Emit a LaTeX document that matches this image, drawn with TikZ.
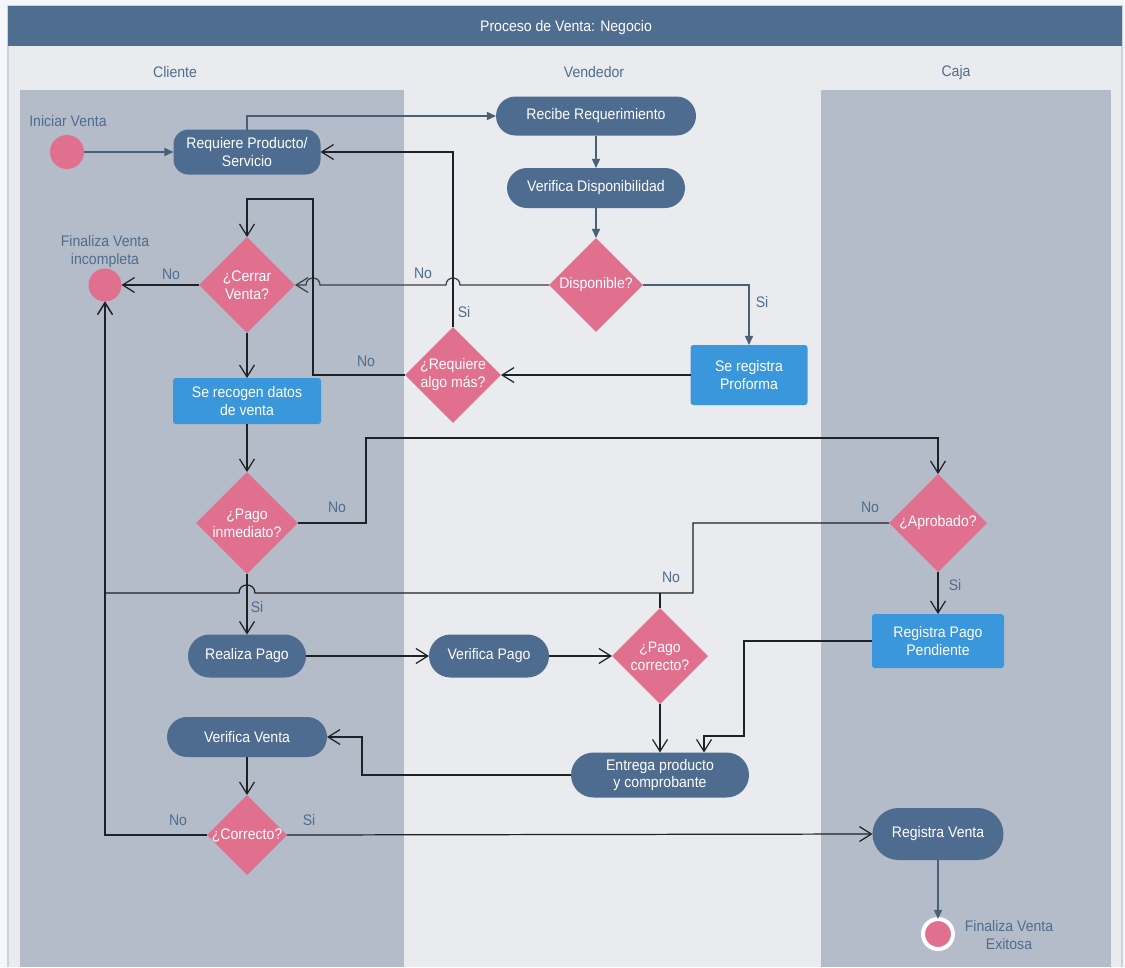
\documentclass[tikz,border=0pt]{standalone}
\usepackage{fontspec}
\setmainfont{Liberation Sans}[FakeStretch=0.92]
\usetikzlibrary{shapes.geometric,arrows.meta}

\definecolor{outerbg}{HTML}{F4F6F9}
\definecolor{bodybg}{HTML}{E9EBEE}
\definecolor{framec}{HTML}{CDD2D8}
\definecolor{hdr}{HTML}{4E6D8F}
\definecolor{lanec}{HTML}{B5BCC9}
\definecolor{actc}{HTML}{4E6C8F}
\definecolor{bluec}{HTML}{3A97DB}
\definecolor{pinkc}{HTML}{E1708F}
\definecolor{lblc}{HTML}{4E6D8F}
\definecolor{flowc}{HTML}{4A6078}
\definecolor{linkc}{HTML}{1E2226}
\definecolor{greyc}{HTML}{3A4048}

\begin{document}
\begin{tikzpicture}[x=0.02cm,y=-0.02cm,
  font=\fontsize{8.7}{10.2}\selectfont,
  every node/.style={outer sep=0pt},
  pill/.style 2 args={rectangle, fill=actc, text=white, align=center, inner sep=0pt,
    minimum width=#1*0.02cm, minimum height=#2*0.02cm, rounded corners=#2*0.01cm},
  tile/.style 2 args={rectangle, fill=bluec, text=white, align=center, inner sep=0pt,
    minimum width=#1*0.02cm, minimum height=#2*0.02cm, rounded corners=1.6pt},
  choice/.style={diamond, fill=pinkc, inner sep=0pt, minimum width=#1*0.04cm, minimum height=#1*0.04cm},
  dtext/.style={text=white, align=center},
  dot/.style={circle, fill=pinkc, inner sep=0pt, minimum size=#1*0.02cm},
  lbl/.style={text=lblc, align=center},
  flow/.style={draw=flowc, line width=0.85pt, -{Triangle[length=5.2pt,width=4.6pt]}},
  link/.style={draw=linkc, line width=0.7pt, -{Straight Barb[length=6.8pt,width=8.5pt]}},
  plain/.style={draw=linkc, line width=0.7pt}
]
\useasboundingbox (0,0) rectangle (1125,967);

% page, frame, header and swimlanes
\fill[outerbg] (0,0) rectangle (1125,967);
\fill[bodybg] (8,6) rectangle (1122,967);
\draw[framec, line width=0.8pt] (8,967) -- (8,6) -- (1122,6) -- (1122,967);
\fill[hdr] (8,6) rectangle (1122,46);
\fill[lanec] (20,90) rectangle (404,967);
\fill[lanec] (821,90) rectangle (1111,967);

\node[text=white] (title) at (566,28) {Proceso de Venta: Negocio};
\node[lbl] (lcli) at (175,72) {Cliente};
\node[lbl] (lven) at (594,72) {Vendedor};
\node[lbl] (lcaj) at (956,73) {Caja};

% Cliente
\node[dot=34] (start) at (67,152) {};
\node[lbl] (tstart) at (68,121) {Iniciar Venta};
\node[pill={147}{45}, rounded corners=8.5pt] (req) at (247,152) {Requiere Producto/\\Servicio};
\node[choice=48] (cerrar) at (247,285) {};
\node[dtext] (tcerrar) at (cerrar) {¿Cerrar\\Venta?};
\node[dot=33] (finc) at (105,285) {};
\node[lbl] (tfinc) at (105,252) {Finaliza Venta\\incompleta};
\node[tile={148}{46}] (recoge) at (247,401) {Se recogen datos\\de venta};
\node[choice=51] (pagoinm) at (247,523) {};
\node[dtext] (tpagoinm) at (pagoinm) {¿Pago\\inmediato?};
\node[pill={118}{43}] (realiza) at (247,656) {Realiza Pago};
\node[pill={160}{40}] (vervta) at (247,737) {Verifica Venta};
\node[choice=40] (correcto) at (247,835) {};
\node[dtext] (tcorrecto) at (correcto) {¿Correcto?};

% Vendedor
\node[pill={200}{39}] (recibe) at (596,116) {Recibe Requerimiento};
\node[pill={178}{40}] (verdisp) at (596,188) {Verifica Disponibilidad};
\node[choice=47] (disp) at (596,285) {};
\node[dtext] (tdisp) at (disp) {Disponible?};
\node[tile={117}{60}] (prof) at (749,375) {Se registra\\Proforma};
\node[choice=48] (reqmas) at (453,375) {};
\node[dtext] (treqmas) at (reqmas) {¿Requiere\\algo más?};
\node[pill={120}{43}] (verpago) at (489,656) {Verifica Pago};
\node[choice=48] (pagocorr) at (660,656) {};
\node[dtext] (tpagocorr) at (pagocorr) {¿Pago\\correcto?};
\node[pill={178}{45}] (entrega) at (660,775) {Entrega producto\\y comprobante};

% Caja
\node[choice=49] (aprob) at (938,523) {};
\node[dtext] (taprob) at (aprob) {¿Aprobado?};
\node[tile={132}{54}] (regpend) at (938,641) {Registra Pago\\Pendiente};
\node[pill={131}{52}] (regvta) at (938,834) {Registra Venta};
\node[circle, fill=pinkc, draw=white, line width=4*0.02cm, inner sep=0pt, minimum size=30*0.02cm] (fexit) at (938,934) {};
\node[lbl] (tfexit) at (1009,935) {Finaliza Venta\\Exitosa};

% junction points
\coordinate (jReg) at (704,736);
\coordinate (jNo) at (660,593);

% connectors
\draw[flow] (start) -- (req);
\draw[flow] (req.north) |- (recibe.west);
\draw[flow] (recibe) -- (verdisp);
\draw[flow] (verdisp) -- (disp);
\draw[flow] (disp.east) -| (prof.north);
\draw[link, draw=greyc] (disp.west) -- (460,285) .. controls (460,275.7) and (446,275.7) .. (446,285)
  -- (320,285) .. controls (320,275.7) and (306,275.7) .. (306,285) -- (cerrar.east);
\draw[link] (prof.west) -- (reqmas.east);
\draw[link] (reqmas.north) |- (req.east);
\draw[link] (reqmas.west) -- (313,375) -- (313,199) -| (cerrar.north);
\draw[link] (cerrar.west) -- (finc.east);
\draw[link] (cerrar) -- (recoge);
\draw[link] (recoge) -- (pagoinm);
\draw[link] (pagoinm.east) -- (366,523) -- (366,438) -| (aprob.north);
\draw[link] (pagoinm) -- (realiza);
\draw[link] (aprob.west) -- (693,523) -- (693,593) -- (255,593)
  .. controls (255,582.3) and (239,582.3) .. (239,593) -- (105,593) -- (finc.south);
\draw[plain] (pagocorr.north) -- (jNo);
\draw[link] (realiza) -- (verpago);
\draw[link] (verpago) -- (pagocorr);
\draw[link] (pagocorr) -- (entrega);
\draw[link] (aprob) -- (regpend);
\draw[link] (regpend.west) -- (744,641) -- (744,736) -- (jReg) -- (jReg |- entrega.north);
\draw[link] (entrega.west) -- (362,775) -- (362,737) -- (vervta.east);
\draw[link] (vervta) -- (correcto);
\draw[link] (correcto.east) -- (regvta.west);
\draw[link] (correcto.west) -- (105,835) -- (finc.south);
\draw[flow] (regvta) -- (fexit);

% branch labels
\node[lbl] (l1) at (762,302) {Si};
\node[lbl] (l2) at (423,273) {No};
\node[lbl] (l3) at (464,312) {Si};
\node[lbl] (l4) at (366,361) {No};
\node[lbl] (l5) at (171,274) {No};
\node[lbl] (l6) at (337,507) {No};
\node[lbl] (l7) at (257,607) {Si};
\node[lbl] (l8) at (870,507) {No};
\node[lbl] (l9) at (671,577) {No};
\node[lbl] (l10) at (955,585) {Si};
\node[lbl] (l11) at (178,820) {No};
\node[lbl] (l12) at (309,820) {Si};
\end{tikzpicture}
\end{document}
